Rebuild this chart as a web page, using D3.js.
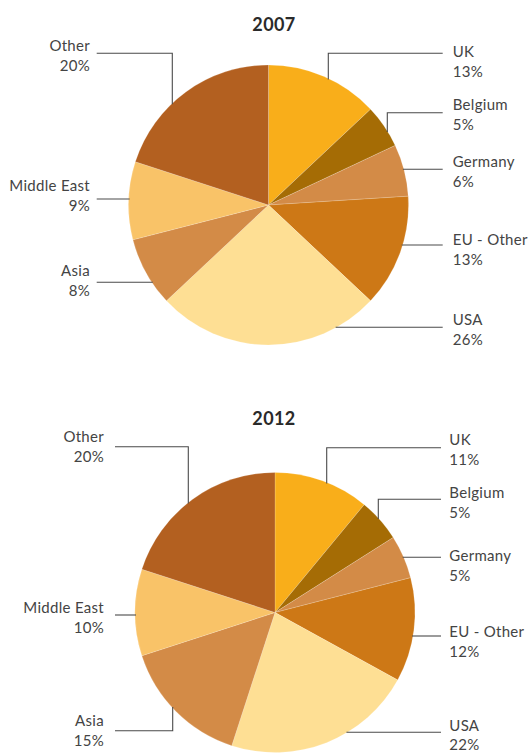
<!DOCTYPE html>
<html>
<head>
<meta charset="utf-8">
<script src="https://cdn.jsdelivr.net/npm/d3@7"></script>
<style>
  body { margin: 0; background: #fff; }
  text { font-family: Lato, "Open Sans", sans-serif; fill: #444; }
  .title { font-size: 18px; font-weight: bold; fill: #2a2a2a; letter-spacing: 0.4px; }
  .lbl { font-size: 15px; letter-spacing: 0.3px; }
  .leader { fill: none; stroke: #4a4a4a; stroke-width: 1.1; }
</style>
</head>
<body>
<div id="chart"></div>
<script>
// data
const categories = ["UK", "Belgium", "Germany", "EU - Other", "USA", "Asia", "Middle East", "Other"];
const years = ["2007", "2012"];
const share2007 = [13, 5, 6, 13, 26, 8, 9, 20];
const share2012 = [11, 5, 5, 12, 22, 15, 10, 20];
const palette = ["#f9ae1a", "#a56c05", "#d38b47", "#cd7816", "#fedf94", "#d38b47", "#f9c368", "#b36020"];

const color = d3.scaleOrdinal().domain(categories).range(palette);

//layout for each pie (positions only, no values)
const layouts = [
  {
    cx: 268.5, cy: 205, r: 140, titleX: 274, titleY: 31,
    rightEnd: 442.7, rightText: 452.7, leftStart: 96.7, leftText: 90,
    labels: {
      "UK":          { side: "r", lineY: 53.3, elbow: 328.3, textY: 57.3 },
      "Belgium":     { side: "r", lineY: 112.7, elbow: 387.3, textY: 110 },
      "Germany":     { side: "r", lineY: 169.3, textY: 167.3 },
      "EU - Other":  { side: "r", lineY: 245, textY: 245 },
      "USA":         { side: "r", lineY: 327.3, textY: 325 },
      "Asia":        { side: "l", lineY: 282.3, textY: 276 },
      "Middle East": { side: "l", lineY: 199, textY: 190.7 },
      "Other":       { side: "l", lineY: 53.3, elbow: 172.3, textY: 50.7 }
    }
  },
  {
    cx: 275, cy: 612.5, r: 140, titleX: 274, titleY: 425,
    rightEnd: 441, rightText: 449.3, leftStart: 115, leftText: 104,
    labels: {
      "UK":          { side: "r", lineY: 447.7, elbow: 326.7, textY: 445 },
      "Belgium":     { side: "r", lineY: 499.3, elbow: 378.3, textY: 498.3 },
      "Germany":     { side: "r", lineY: 557.3, textY: 561 },
      "EU - Other":  { side: "r", lineY: 636, textY: 636.7 },
      "USA":         { side: "r", lineY: 732.3, textY: 730.5 },   // nudged up so 22% stays on the page
      "Asia":        { side: "l", lineY: 730.7, elbow: 172.7, textY: 726 },
      "Middle East": { side: "l", lineY: 615, textY: 613.3 },
      "Other":       { side: "l", lineY: 446.7, elbow: 188.3, textY: 442.3 }
    }
  }
];

const lineGap = 19.8;

const svg = d3.select("#chart").append("svg")
  .attr("width", 528)
  .attr("height", 754);

const pie = d3.pie().sort(null).value(d => d.value);

function drawPie(year, values, lay) {
  const data = categories.map((c, i) => ({ name: c, value: values[i] }));
  const arc = d3.arc().innerRadius(0).outerRadius(lay.r);
  const g = svg.append("g");

  g.append("text")
    .attr("class", "title")
    .attr("x", lay.titleX)
    .attr("y", lay.titleY)
    .attr("text-anchor", "middle")
    .text(year);

  g.append("g")
    .attr("transform", `translate(${lay.cx},${lay.cy})`)
    .selectAll("path")
    .data(pie(data))
    .join("path")
    .attr("d", arc)
    .attr("fill", d => color(d.data.name))
    .attr("stroke", "#fff")
    .attr("stroke-opacity", 0.35)
    .attr("stroke-width", 0.5);

  //leader lines: horizontal from label, optional elbow, end on the pie edge
  const leader = d => {
    const L = lay.labels[d.name];
    const x0 = L.side === "r" ? lay.rightEnd : lay.leftStart;
    if (L.elbow !== undefined) {
      const dx = L.elbow - lay.cx;
      const h = Math.sqrt(lay.r * lay.r - dx * dx);
      const yEnd = L.lineY < lay.cy ? lay.cy - h + 1 : lay.cy + h - 1;
      return `M${x0},${L.lineY}H${L.elbow}V${yEnd}`;
    }
    const dy = L.lineY - lay.cy;
    const w = Math.sqrt(lay.r * lay.r - dy * dy);
    const xEnd = L.side === "r" ? lay.cx + w - 1 : lay.cx - w + 1;
    return `M${x0},${L.lineY}H${xEnd}`;
  };

  g.selectAll("path.leader")
    .data(data)
    .join("path")
    .attr("class", "leader")
    .attr("d", leader);

  const lbl = g.selectAll("text.lbl")
    .data(data)
    .join("text")
    .attr("class", "lbl")
    .attr("text-anchor", d => lay.labels[d.name].side === "r" ? "start" : "end")
    .attr("x", d => lay.labels[d.name].side === "r" ? lay.rightText : lay.leftText)
    .attr("y", d => lay.labels[d.name].textY);

  lbl.append("tspan").text(d => d.name);
  lbl.append("tspan")
    .attr("x", d => lay.labels[d.name].side === "r" ? lay.rightText : lay.leftText)
    .attr("dy", lineGap)
    .text(d => d.value + "%");
}

drawPie(years[0], share2007, layouts[0]);
drawPie(years[1], share2012, layouts[1]);
</script>
</body>
</html>
